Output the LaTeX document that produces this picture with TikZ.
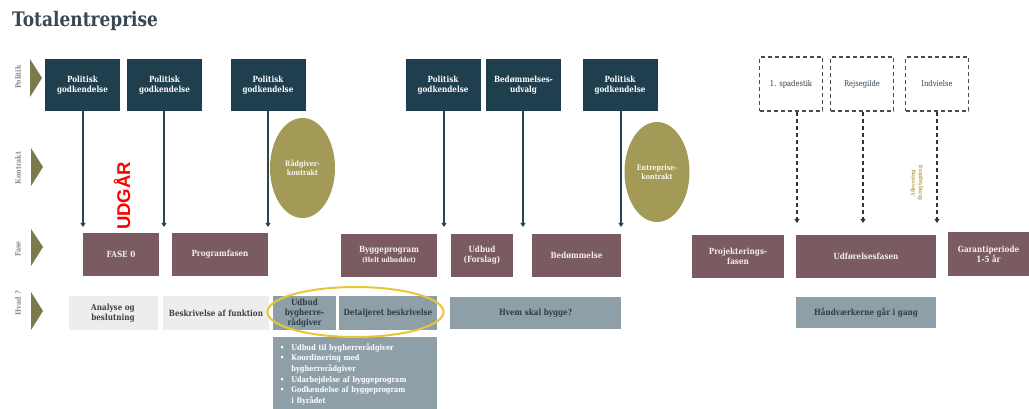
\documentclass[tikz,border=0pt]{standalone}
\usepackage{fontspec}
\setmainfont[FakeStretch=0.85]{DejaVu Serif}
\newfontfamily\udgfont{Liberation Sans}
\usetikzlibrary{arrows.meta,shapes.geometric}
\definecolor{cPol}{HTML}{1F3E4E}
\definecolor{cFase}{HTML}{7A5B62}
\definecolor{cOli}{HTML}{A29A56}
\definecolor{cGB}{HTML}{8E9FA8}
\definecolor{cLG}{HTML}{EDEDED}
\definecolor{cTri}{HTML}{7B7A4C}
\definecolor{cTitle}{HTML}{3B4750}
\definecolor{cLab}{HTML}{8C8C8C}
\definecolor{cArr}{HTML}{2D4350}
\definecolor{cYel}{HTML}{E8C53A}
\definecolor{cGold}{HTML}{B8A547}
\definecolor{cDark}{HTML}{2E3E48}
\begin{document}
\begin{tikzpicture}[x=1pt,y=-1pt,
  every node/.style={font=\fontsize{8.5}{10}\selectfont\bfseries, align=center, inner sep=1pt},
  polbox/.style={fill=cPol, text=white, minimum width=75pt, minimum height=52pt},
  dashbox/.style={draw=black!70, dashed, dash pattern=on 4pt off 3pt, line width=1.1pt, text=cDark,
    minimum width=63pt, minimum height=54pt, font=\fontsize{8}{10}\selectfont},
  fasebox/.style={fill=cFase, text=white!90!cFase, minimum height=43pt},
  gbbox/.style={fill=cGB, text=cDark, minimum height=34pt},
  lgbox/.style={fill=cLG, text=black!75, minimum height=34pt},
  oval/.style={ellipse, fill=cOli, text=white!92!cOli, minimum width=65pt, minimum height=100pt,
    font=\fontsize{7.5}{9}\selectfont\bfseries},
  rowlab/.style={rotate=90, text=cLab, font=\fontsize{7.5}{8}\selectfont\bfseries},
  arr/.style={draw=cArr, line width=1.4pt, -{Triangle[width=5pt,length=4pt]}},
  darr/.style={draw=black!80, line width=1.2pt, dashed, dash pattern=on 4pt off 3pt, -{Triangle[width=5pt,length=4pt]}},
]
\useasboundingbox (0,0) rectangle (1029,409);
% title
\node[anchor=west, text=cTitle, font=\fontsize{20}{24}\selectfont\bfseries, inner sep=0pt] (title) at (12,21) {Totalentreprise};
% row labels
\node[rowlab] (lp) at (18,77) {Politik};
\node[rowlab] (lk) at (18,168) {Kontrakt};
\node[rowlab] (lf) at (18,249) {Fase};
\node[rowlab] (lh) at (18,303) {Hvad ?};
\fill[cTri] (30,59) -- (42,78) -- (30,97) -- cycle;
\fill[cTri] (31,148) -- (43,167) -- (31,186) -- cycle;
\fill[cTri] (31,229) -- (43,247) -- (31,266) -- cycle;
\fill[cTri] (31,292) -- (43,311) -- (31,330) -- cycle;
% politik boxes
\node[polbox] (p1) at (82.5,85) {Politisk\\godkendelse};
\node[polbox] (p2) at (164.5,85) {Politisk\\godkendelse};
\node[polbox] (p3) at (268,85) {Politisk\\godkendelse};
\node[polbox] (p4) at (443,85) {Politisk\\godkendelse};
\node[polbox] (p5) at (523.5,85) {Bedømmelses-\\udvalg};
\node[polbox] (p6) at (620,85) {Politisk\\godkendelse};
\node[dashbox] (d1) at (791,84) {1. spadestik};
\node[dashbox] (d2) at (862,84) {Rejsegilde};
\node[dashbox] (d3) at (937,84) {Indvielse};
% contracts
\node[oval] (k1) at (302.5,168) {Rådgiver-\\kontrakt};
\node[oval] (k2) at (657,172) {Entreprise-\\kontrakt};
\node[rotate=90, text=red, font=\udgfont\bfseries\fontsize{18.5}{20}\selectfont, inner sep=0pt] (udg) at (122,196) {UDGÅR};
\node[rotate=90, text=cGold, font=\fontsize{5.5}{7}\selectfont\bfseries] (afl) at (917,183) {Aflevering\\Ibrugtagning};
% fase boxes
\node[fasebox, minimum width=76pt] (f1) at (121,254.5) {FASE 0};
\node[fasebox, minimum width=96pt] (f2) at (220,254.5) {Programfasen};
\node[fasebox, minimum width=96pt] (f3) at (389,255) {Byggeprogram\\{\fontsize{7}{8}\selectfont(Helt udbuddet)}};
\node[fasebox, minimum width=62pt] (f4) at (482,255) {Udbud\\(Forslag)};
\node[fasebox, minimum width=89pt] (f5) at (576.5,255) {Bedømmelse};
\node[fasebox, minimum width=92pt] (f6) at (738,256) {Projekterings-\\fasen};
\node[fasebox, minimum width=140pt] (f7) at (866,256) {Udførelsesfasen};
\node[fasebox, minimum width=81pt, minimum height=44pt] (f8) at (988.5,254) {Garantiperiode\\1-5 år};
% hvad boxes
\node[lgbox, minimum width=89pt] (h1) at (113,313) {Analyse og\\beslutning};
\node[lgbox, minimum width=106pt] (h2) at (216,313) {Beskrivelse af funktion};
\node[gbbox, minimum width=63pt] (h3) at (304.5,313) {Udbud\\bygherre-\\rådgiver};
\node[gbbox, minimum width=98pt] (h4) at (388,313) {Detaljeret beskrivelse};
\node[gbbox, minimum width=171pt, minimum height=32pt] (h5) at (535.5,313) {Hvem skal bygge?};
\node[gbbox, minimum width=140pt, minimum height=31pt] (h6) at (866,312.5) {Håndværkerne går i gang};
\node[fill=cGB, text=white, anchor=north west, minimum width=164pt, minimum height=74pt,
  text width=150pt, align=left, inner xsep=7pt, font=\fontsize{7.8}{10.6}\selectfont\bfseries] (lst) at (273,337)
  {\textbullet\hspace{7pt}Udbud til bygherrerådgiver\\
   \textbullet\hspace{7pt}Koordinering med\\
   \hphantom{\textbullet\hspace{7pt}}bygherrerådgiver\\
   \textbullet\hspace{7pt}Udarbejdelse af byggeprogram\\
   \textbullet\hspace{7pt}Godkendelse af byggeprogram\\
   \hphantom{\textbullet\hspace{7pt}}i Byrådet};
% highlight
\node[ellipse, draw=cYel, line width=2pt, minimum width=176pt, minimum height=50pt] (hl) at (355.5,312) {};
% arrow ends
\coordinate (e1) at (83,227);
\coordinate (e2) at (164,227);
\coordinate (e3) at (268,227);
\coordinate (e4) at (444,227);
\coordinate (e5) at (523,227);
\coordinate (e6) at (621,227);
\coordinate (e7) at (797,223);
\coordinate (e8) at (863,223);
\coordinate (e9) at (937,223);
\draw[arr] (p1.south -| e1) -- (e1);
\draw[arr] (p2.south -| e2) -- (e2);
\draw[arr] (p3.south -| e3) -- (e3);
\draw[arr] (p4.south -| e4) -- (e4);
\draw[arr] (p5.south -| e5) -- (e5);
\draw[arr] (p6.south -| e6) -- (e6);
\draw[darr] (d1.south -| e7) -- (e7);
\draw[darr] (d2.south -| e8) -- (e8);
\draw[darr] (d3.south -| e9) -- (e9);
\end{tikzpicture}
\end{document}
